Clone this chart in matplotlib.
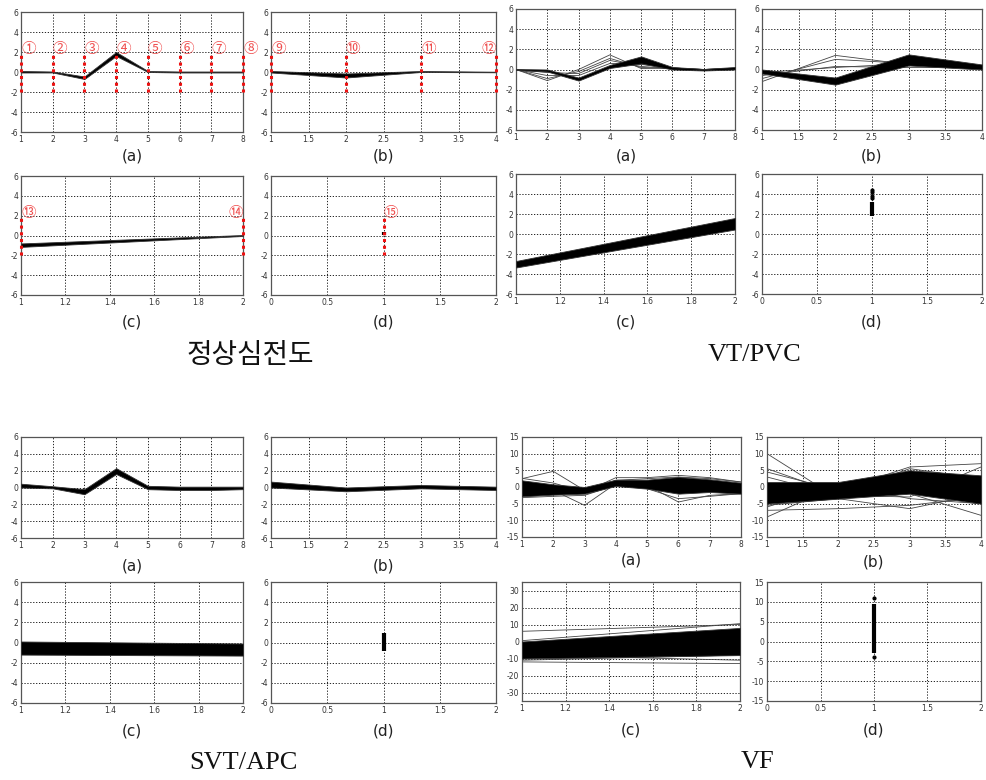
import matplotlib
matplotlib.use("Agg")
import matplotlib.pyplot as plt
from matplotlib.ticker import FuncFormatter

# ---------------- data ----------------
# Normal ECG (정상심전도)
N_A_X = [1, 2, 3, 4, 5, 6, 7, 8]
N_A_LO = [-0.05, -0.05, -0.7, 1.6, 0.0, -0.05, -0.05, -0.05]
N_A_HI = [0.10, 0.05, -0.45, 2.0, 0.10, 0.05, 0.05, 0.05]
N_B_X = [1, 2, 3, 4]
N_B_LO = [-0.05, -0.55, 0.0, -0.03]
N_B_HI = [0.10, -0.15, 0.10, 0.03]
N_C_X = [1, 2]
N_C_LO = [-1.15, -0.05]
N_C_HI = [-0.80, 0.05]
N_D_COL = [0.1, 0.4]
N_MARK_A = ["①", "②", "③", "④", "⑤", "⑥", "⑦", "⑧"]
N_MARK_B = ["⑨", "⑩", "⑪", "⑫"]
N_MARK_C = ["⑬", "⑭"]
N_MARK_D = ["⑮"]

# VT/PVC
V_A_LO = [-0.05, -0.2, -1.1, 0.15, 0.6, 0.0, -0.1, 0.0]
V_A_HI = [0.05, 0.0, -0.8, 0.45, 1.3, 0.25, 0.05, 0.25]
V_A_OUT = [[0, -1.1, 0.0, 1.45, 0.1, 0.15, 0.0, 0.1],
           [0, -0.9, -0.2, 1.1, 0.2, 0.1, 0.0, 0.1],
           [0, -0.6, -0.6, 0.6, 0.5, 0.15, 0.0, 0.1],
           [0, -0.3, -0.4, 0.9, 0.3, 0.1, 0.0, 0.1]]
V_B_LO = [-0.4, -1.5, 0.4, 0.0]
V_B_HI = [0.0, -0.8, 1.5, 0.5]
V_B_OUT = [[-1.2, 1.4, 0.5, 0.3],
           [-0.9, 1.0, 0.6, 0.3],
           [-0.6, 0.3, 0.2, 0.2],
           [-0.3, 0.2, 0.6, 0.3]]
V_C_LO = [-3.35, 0.45]
V_C_HI = [-2.7, 1.6]
V_D_COL = [1.8, 3.2]
V_D_PTS = [3.6, 3.8, 4.2, 4.4]

# SVT/APC
S_A_LO = [0.0, -0.1, -0.8, 1.6, -0.2, -0.3, -0.3, -0.2]
S_A_HI = [0.45, 0.15, -0.2, 2.3, 0.2, 0.1, 0.1, 0.1]
S_B_LO = [0.0, -0.45, -0.1, -0.3]
S_B_HI = [0.7, 0.0, 0.3, 0.1]
S_C_LO = [-1.2, -1.3]
S_C_HI = [0.1, -0.1]
S_D_COL = [-0.8, 0.9]

# VF
F_A_LO = [-2.8, -2.3, -2.0, 0.3, -0.5, -2.0, -1.5, -2.0]
F_A_HI = [2.0, 0.8, 0.0, 2.2, 2.2, 3.0, 2.3, 1.3]
F_A_OUT = [[2.5, 4.7, -1.0, 2.0, 2.5, 3.0, 2.5, 1.5],
           [-1.0, -1.0, -5.5, 1.0, 0.5, -4.5, -2.5, -2.0],
           [-3.2, -2.8, -2.5, 0.5, -0.5, -3.5, -2.8, -2.0],
           [2.6, 1.2, -1.5, 2.8, 2.8, 3.5, 2.8, 1.5]]
F_B_LO = [-5.0, -3.5, -2.0, -5.0]
F_B_HI = [1.5, 1.5, 5.0, 3.5]
F_B_OUT = [[10.0, -3.5, -1.0, -2.0],
           [5.5, -2.0, 5.5, 2.5],
           [4.5, -1.0, 6.0, 7.0],
           [-9.0, 0.5, -2.0, -8.5],
           [-7.0, -6.5, -5.5, -3.0],
           [-5.5, -3.5, -6.5, -2.0],
           [3.0, -2.5, -3.0, 6.0],
           [-6.0, 1.0, -3.5, -5.0]]
F_C_LO = [-10.0, -8.0]
F_C_HI = [0.0, 8.0]
F_C_OUT = [[6.0, 10.0], [-12.0, -13.0], [-8.0, -11.0], [0.5, 10.5], [-11.0, -8.0]]
F_D_COL = [-3.0, 9.5]
F_D_PTS = [11.0, -4.0]

TITLES = ["정상심전도", "VT/PVC", "SVT/APC", "VF"]

# ---------------- drawing ----------------
W, H = 986, 780
fig = plt.figure(figsize=(W / 100, H / 100), dpi=100)
fig.patch.set_facecolor("white")

CJK = ["Noto Sans CJK KR", "DejaVu Sans"]


def add_ax(l, t, r, b):
    return fig.add_axes([l / W, 1 - b / H, (r - l) / W, (b - t) / H])


def style(ax, xlim, xticks, ylim, yticks):
    ax.set_xlim(*xlim)
    ax.set_ylim(*ylim)
    ax.set_xticks(xticks)
    ax.set_yticks(yticks)
    fmt = FuncFormatter(lambda v, p: "%g" % v)
    ax.xaxis.set_major_formatter(fmt)
    ax.yaxis.set_major_formatter(fmt)
    ax.tick_params(length=0, labelsize=5.5, labelcolor="#333333", pad=2)
    ax.grid(True, color="black", linestyle=(0, (1.5, 2)), linewidth=0.6)
    ax.set_axisbelow(True)
    for s in ax.spines.values():
        s.set_color("#555555")
        s.set_linewidth(0.9)


def band(ax, x, lo, hi):
    ax.fill_between(x, lo, hi, color="black", linewidth=0.6, edgecolor="#333333", zorder=3)


def outliers(ax, x, rows):
    for r in rows:
        ax.plot(x, r, color="#444444", linewidth=0.6, zorder=2)


def column(ax, lo_hi, pts=()):
    ax.vlines([1], [lo_hi[0]], [lo_hi[1]], color="black", linewidth=3, zorder=4)
    if pts:
        ax.plot([1] * len(pts), pts, "o", color="black", markersize=2, zorder=4)


def red_marks(ax, xs, labels, left_side=()):
    ax.vlines(xs, [-2] * len(xs), [2] * len(xs), color="#ee1111",
              linestyle=(0, (1, 1.2)), linewidth=2.2, zorder=5, clip_on=False)
    for x, lab in zip(xs, labels):
        ha = "right" if lab in left_side else "left"
        ax.text(x, 2.3, lab, ha=ha, va="center", fontsize=10.5, color="#f05050",
                family=CJK, zorder=6, clip_on=False)


def lab(x, y, s):
    fig.text(x / W, 1 - y / H, s, ha="center", va="center", fontsize=11,
             color="#222222", family="DejaVu Sans")


XT8 = [1, 2, 3, 4, 5, 6, 7, 8]
XT4 = [1, 1.5, 2, 2.5, 3, 3.5, 4]
XT2 = [1, 1.2, 1.4, 1.6, 1.8, 2]
XTD = [0, 0.5, 1, 1.5, 2]
Y6 = [-6, -4, -2, 0, 2, 4, 6]

# ---- group 1: normal ----
ax = add_ax(21, 12, 243, 132)
style(ax, (1, 8), XT8, (-6, 6), Y6)
band(ax, N_A_X, N_A_LO, N_A_HI)
red_marks(ax, N_A_X, N_MARK_A)
ax = add_ax(271, 12, 496, 132)
style(ax, (1, 4), XT4, (-6, 6), Y6)
band(ax, N_B_X, N_B_LO, N_B_HI)
red_marks(ax, N_B_X, N_MARK_B, left_side=("⑫",))
ax = add_ax(21, 176, 243, 295)
style(ax, (1, 2), XT2, (-6, 6), Y6)
band(ax, N_C_X, N_C_LO, N_C_HI)
red_marks(ax, N_C_X, N_MARK_C, left_side=("⑭",))
ax = add_ax(271, 176, 496, 295)
style(ax, (0, 2), XTD, (-6, 6), Y6)
column(ax, N_D_COL)
red_marks(ax, [1], N_MARK_D)
lab(132, 156, "(a)"); lab(383, 156, "(b)"); lab(132, 322, "(c)"); lab(383, 322, "(d)")
fig.text(250 / W, 1 - 355 / H, TITLES[0], ha="center", va="center", fontsize=20,
         family=CJK, color="#111111")

# ---- group 2: VT/PVC ----
ax = add_ax(516, 9, 735, 130)
style(ax, (1, 8), XT8, (-6, 6), Y6)
outliers(ax, N_A_X, V_A_OUT)
band(ax, N_A_X, V_A_LO, V_A_HI)
ax = add_ax(762, 9, 982, 130)
style(ax, (1, 4), XT4, (-6, 6), Y6)
outliers(ax, N_B_X, V_B_OUT)
band(ax, N_B_X, V_B_LO, V_B_HI)
ax = add_ax(516, 174, 735, 294)
style(ax, (1, 2), XT2, (-6, 6), Y6)
band(ax, N_C_X, V_C_LO, V_C_HI)
ax = add_ax(762, 174, 982, 294)
style(ax, (0, 2), XTD, (-6, 6), Y6)
column(ax, V_D_COL, V_D_PTS)
lab(626, 156, "(a)"); lab(872, 156, "(b)"); lab(626, 322, "(c)"); lab(872, 322, "(d)")
fig.text(755 / W, 1 - 355 / H, TITLES[1], ha="center", va="center", fontsize=19,
         family="Liberation Serif", color="#111111")

# ---- group 3: SVT/APC ----
ax = add_ax(21, 437, 243, 538)
style(ax, (1, 8), XT8, (-6, 6), Y6)
band(ax, N_A_X, S_A_LO, S_A_HI)
ax = add_ax(271, 437, 496, 538)
style(ax, (1, 4), XT4, (-6, 6), Y6)
band(ax, N_B_X, S_B_LO, S_B_HI)
ax = add_ax(21, 582, 243, 703)
style(ax, (1, 2), XT2, (-6, 6), Y6)
band(ax, N_C_X, S_C_LO, S_C_HI)
ax = add_ax(271, 582, 496, 703)
style(ax, (0, 2), XTD, (-6, 6), Y6)
column(ax, S_D_COL)
lab(132, 566, "(a)"); lab(383, 566, "(b)"); lab(132, 731, "(c)"); lab(383, 731, "(d)")
fig.text(243 / W, 1 - 763 / H, TITLES[2], ha="center", va="center", fontsize=19,
         family="Liberation Serif", color="#111111")

# ---- group 4: VF ----
Y15 = [-15, -10, -5, 0, 5, 10, 15]
ax = add_ax(522, 437, 741, 537)
style(ax, (1, 8), XT8, (-15, 15), Y15)
outliers(ax, N_A_X, F_A_OUT)
band(ax, N_A_X, F_A_LO, F_A_HI)
ax = add_ax(767, 437, 981, 537)
style(ax, (1, 4), XT4, (-15, 15), Y15)
band(ax, N_B_X, F_B_LO, F_B_HI)
outliers(ax, N_B_X, F_B_OUT)
ax = add_ax(522, 582, 740, 701)
style(ax, (1, 2), XT2, (-35, 35), [-30, -20, -10, 0, 10, 20, 30])
band(ax, N_C_X, F_C_LO, F_C_HI)
outliers(ax, N_C_X, F_C_OUT)
ax = add_ax(767, 582, 981, 701)
style(ax, (0, 2), XTD, (-15, 15), Y15)
column(ax, F_D_COL, F_D_PTS)
lab(631, 560, "(a)"); lab(874, 562, "(b)"); lab(631, 730, "(c)"); lab(874, 730, "(d)")
fig.text(758 / W, 1 - 762 / H, TITLES[3], ha="center", va="center", fontsize=19,
         family="Liberation Serif", color="#111111")

fig.savefig("out.png", dpi=100)
